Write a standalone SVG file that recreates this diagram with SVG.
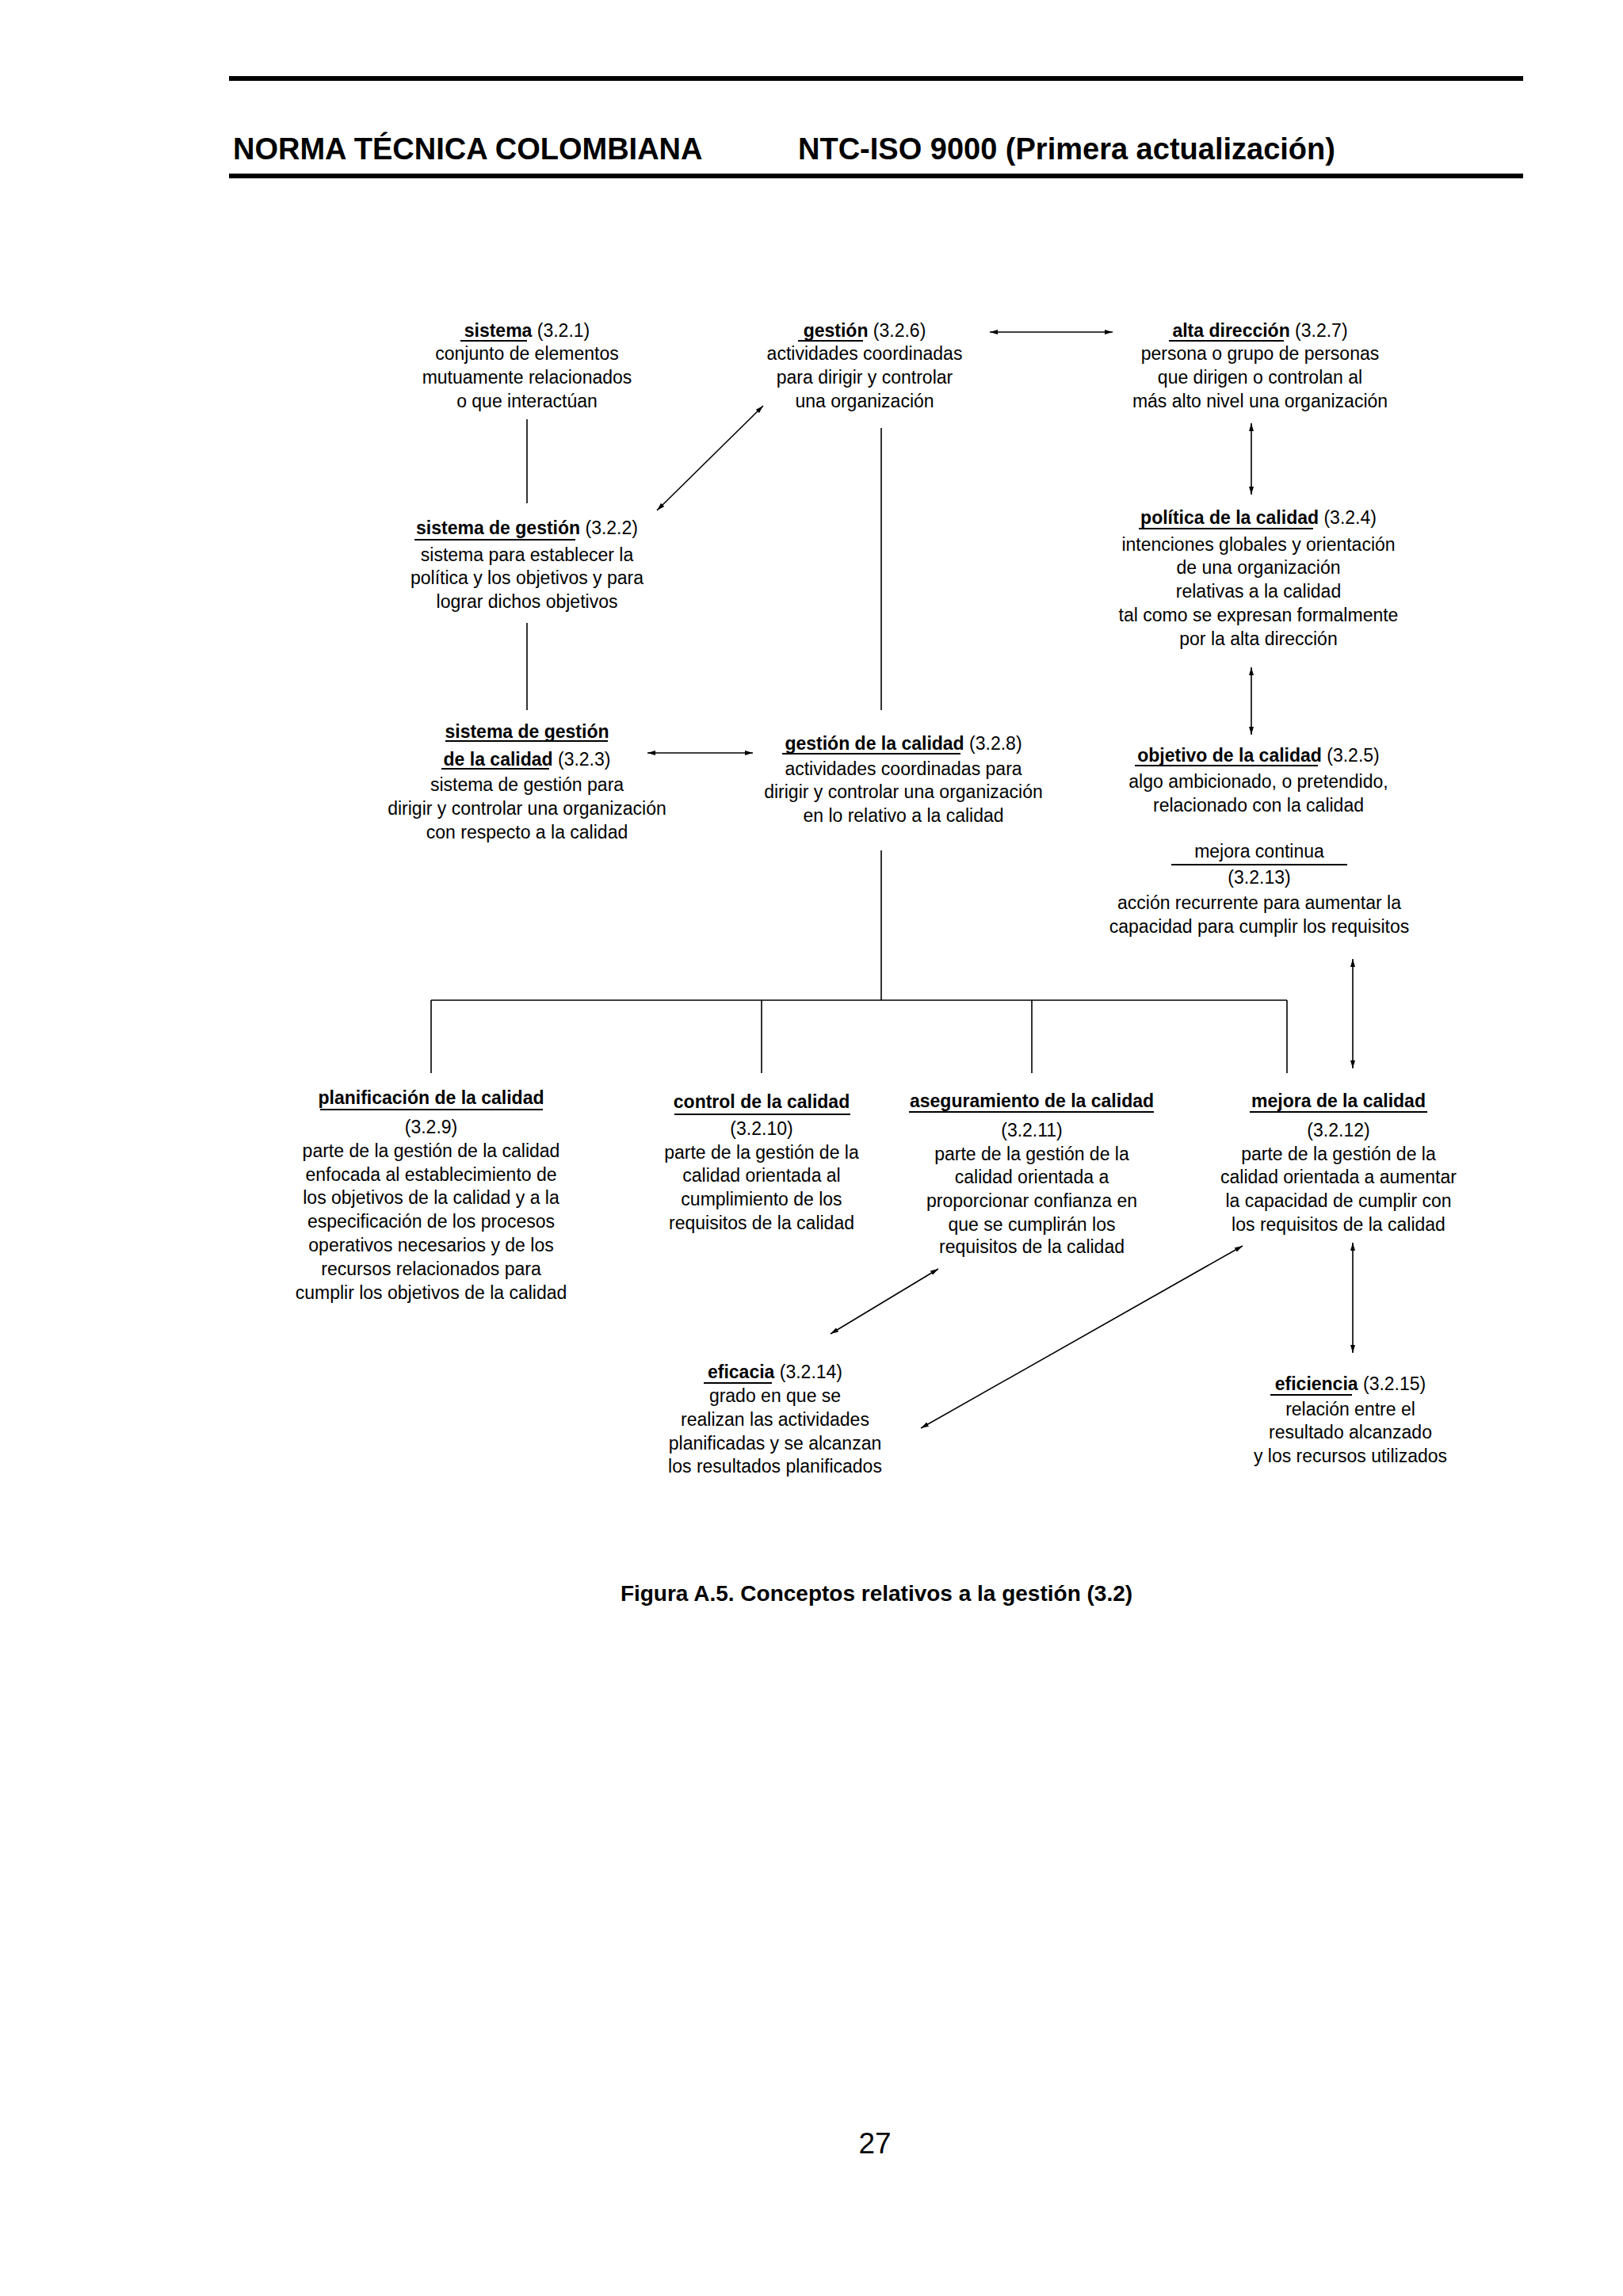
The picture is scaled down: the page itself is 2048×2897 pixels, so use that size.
<svg xmlns="http://www.w3.org/2000/svg" width="2048" height="2897" viewBox="0 0 2048 2897">
<style>
text{font-family:"Liberation Sans",Arial,sans-serif;font-size:23px;fill:#000;text-anchor:middle}
.h{font-size:38px;font-weight:bold;text-anchor:start}
.b{font-weight:bold}
.ul{stroke:#000;stroke-width:2}
.c{stroke:#000;stroke-width:1.6;fill:none}
.a{stroke:#000;stroke-width:1.6;fill:none;marker-start:url(#ar);marker-end:url(#ar)}
</style>
<defs><marker id="ar" viewBox="0 0 10 6" refX="10" refY="3" markerWidth="10" markerHeight="6" markerUnits="userSpaceOnUse" orient="auto-start-reverse"><path d="M0,0 L10,3 L0,6 Z" fill="#000"/></marker></defs>
<rect width="2048" height="2897" fill="#fff"/>
<g id="header">
<rect x="289" y="96" width="1633" height="6"/>
<text class="h" x="294" y="201">NORMA TÉCNICA COLOMBIANA</text>
<text class="h" x="1007" y="201">NTC-ISO 9000 (Primera actualización)</text>
<rect x="289" y="219" width="1633" height="6"/>
</g>
<g id="connectors">
<line class="a" x1="1249" y1="419" x2="1404" y2="419"/>
<line class="c" x1="665" y1="529" x2="665" y2="635"/>
<line class="a" x1="829" y1="644" x2="963" y2="512"/>
<line class="c" x1="665" y1="786" x2="665" y2="896"/>
<line class="a" x1="817" y1="950" x2="950" y2="950"/>
<line class="c" x1="1112" y1="540" x2="1112" y2="896"/>
<line class="a" x1="1579" y1="534" x2="1579" y2="624"/>
<line class="a" x1="1579" y1="842" x2="1579" y2="927"/>
<line class="c" x1="1112" y1="1073" x2="1112" y2="1262"/>
<line class="c" x1="544" y1="1262" x2="1624" y2="1262"/>
<line class="c" x1="544" y1="1262" x2="544" y2="1354"/>
<line class="c" x1="961" y1="1262" x2="961" y2="1354"/>
<line class="c" x1="1302" y1="1262" x2="1302" y2="1354"/>
<line class="c" x1="1624" y1="1262" x2="1624" y2="1354"/>
<line class="a" x1="1707" y1="1210" x2="1707" y2="1348"/>
<line class="a" x1="1184" y1="1601" x2="1048" y2="1683"/>
<line class="a" x1="1568" y1="1572" x2="1162" y2="1802"/>
<line class="a" x1="1707" y1="1568" x2="1707" y2="1707"/>
</g>
<g id="sistema">
<text x="665" y="425"><tspan class="b">sistema</tspan>  (3.2.1)</text>
<line class="ul" x1="581" y1="430" x2="665" y2="430"/>
<text x="665" y="454">conjunto de elementos</text>
<text x="665" y="484">mutuamente relacionados</text>
<text x="665" y="514">o que interactúan</text>
</g>
<g id="gestion">
<text x="1091" y="425"><tspan class="b">gestión</tspan>  (3.2.6)</text>
<line class="ul" x1="1007" y1="430" x2="1089" y2="430"/>
<text x="1091" y="454">actividades coordinadas</text>
<text x="1091" y="484">para dirigir y controlar</text>
<text x="1091" y="514">una organización</text>
</g>
<g id="alta">
<text x="1590" y="425"><tspan class="b">alta dirección</tspan> (3.2.7)</text>
<line class="ul" x1="1475" y1="430" x2="1620" y2="430"/>
<text x="1590" y="454">persona o grupo de personas</text>
<text x="1590" y="484">que dirigen o controlan al</text>
<text x="1590" y="514">más alto nivel una organización</text>
</g>
<g id="sgestion">
<text x="665" y="674"><tspan class="b">sistema de gestión</tspan> (3.2.2)</text>
<line class="ul" x1="523" y1="681" x2="726" y2="681"/>
<text x="665" y="708">sistema para establecer la</text>
<text x="665" y="737">política y los objetivos y para</text>
<text x="665" y="767">lograr dichos objetivos</text>
</g>
<g id="politica">
<text x="1588" y="661"><tspan class="b">política de la calidad</tspan> (3.2.4)</text>
<line class="ul" x1="1437" y1="667" x2="1657" y2="667"/>
<text x="1588" y="695">intenciones globales y orientación</text>
<text x="1588" y="724">de una organización</text>
<text x="1588" y="754">relativas a la calidad</text>
<text x="1588" y="784">tal como se expresan formalmente</text>
<text x="1588" y="814">por la alta dirección</text>
</g>
<g id="sgc">
<text x="665" y="931" class="b">sistema de gestión</text>
<line class="ul" x1="562" y1="935" x2="767" y2="935"/>
<text x="665" y="966"><tspan class="b">de la calidad</tspan>  (3.2.3)</text>
<line class="ul" x1="557" y1="970" x2="693" y2="970"/>
<text x="665" y="998">sistema de gestión para</text>
<text x="665" y="1028">dirigir y controlar una organización</text>
<text x="665" y="1058">con respecto a la calidad</text>
</g>
<g id="gc">
<text x="1140" y="946"><tspan class="b">gestión de la calidad</tspan>  (3.2.8)</text>
<line class="ul" x1="987" y1="951" x2="1212" y2="951"/>
<text x="1140" y="978">actividades coordinadas para</text>
<text x="1140" y="1007">dirigir y controlar una organización</text>
<text x="1140" y="1037">en lo relativo a la calidad</text>
</g>
<g id="objetivo">
<text x="1588" y="961"><tspan class="b">objetivo de la calidad</tspan>  (3.2.5)</text>
<line class="ul" x1="1432" y1="966" x2="1663" y2="966"/>
<text x="1588" y="994">algo ambicionado, o pretendido,</text>
<text x="1588" y="1024">relacionado con la calidad</text>
</g>
<g id="mcontinua">
<text x="1589" y="1082">mejora continua</text>
<line class="ul" x1="1478" y1="1091" x2="1700" y2="1091"/>
<text x="1589" y="1115">(3.2.13)</text>
<text x="1589" y="1147">acción recurrente para aumentar la</text>
<text x="1589" y="1177">capacidad para cumplir los requisitos</text>
</g>
<g id="planificacion">
<text x="544" y="1393" class="b">planificación de la calidad</text>
<line class="ul" x1="404" y1="1400" x2="685" y2="1400"/>
<text x="544" y="1430">(3.2.9)</text>
<text x="544" y="1460">parte de la gestión de la calidad</text>
<text x="544" y="1490">enfocada al establecimiento  de</text>
<text x="544" y="1519">los objetivos de la calidad y a la</text>
<text x="544" y="1549">especificación de los procesos</text>
<text x="544" y="1579">operativos necesarios y de los</text>
<text x="544" y="1609">recursos relacionados para</text>
<text x="544" y="1639">cumplir los objetivos de la calidad</text>
</g>
<g id="control">
<text x="961" y="1398" class="b">control de la calidad</text>
<line class="ul" x1="851" y1="1406" x2="1073" y2="1406"/>
<text x="961" y="1432">(3.2.10)</text>
<text x="961" y="1462">parte de la gestión de la</text>
<text x="961" y="1491">calidad orientada al</text>
<text x="961" y="1521">cumplimiento de los</text>
<text x="961" y="1551">requisitos de la calidad</text>
</g>
<g id="aseguramiento">
<text x="1302" y="1397" class="b">aseguramiento de la calidad</text>
<line class="ul" x1="1147" y1="1403" x2="1456" y2="1403"/>
<text x="1302" y="1434">(3.2.11)</text>
<text x="1302" y="1464">parte de la gestión de la</text>
<text x="1302" y="1493">calidad orientada a</text>
<text x="1302" y="1523">proporcionar confianza en</text>
<text x="1302" y="1553">que se cumplirán los</text>
<text x="1302" y="1581">requisitos de la calidad</text>
</g>
<g id="mejora">
<text x="1689" y="1397" class="b">mejora de la calidad</text>
<line class="ul" x1="1577" y1="1403" x2="1801" y2="1403"/>
<text x="1689" y="1434">(3.2.12)</text>
<text x="1689" y="1464">parte de la gestión de la</text>
<text x="1689" y="1493">calidad orientada a aumentar</text>
<text x="1689" y="1523">la capacidad de cumplir con</text>
<text x="1689" y="1553">los requisitos de la calidad</text>
</g>
<g id="eficacia">
<text x="978" y="1739"><tspan class="b">eficacia</tspan>  (3.2.14)</text>
<line class="ul" x1="888" y1="1745" x2="974" y2="1745"/>
<text x="978" y="1769">grado en que se</text>
<text x="978" y="1799">realizan las actividades</text>
<text x="978" y="1829">planificadas y se alcanzan</text>
<text x="978" y="1858">los resultados planificados</text>
</g>
<g id="eficiencia">
<text x="1704" y="1754"><tspan class="b">eficiencia</tspan>  (3.2.15)</text>
<line class="ul" x1="1603" y1="1760" x2="1706" y2="1760"/>
<text x="1704" y="1786">relación entre el</text>
<text x="1704" y="1815">resultado alcanzado</text>
<text x="1704" y="1845">y los recursos utilizados</text>
</g>
<g id="caption">
<text x="1106" y="2020" class="b" style="font-size:28px">Figura A.5. Conceptos relativos a la gestión (3.2)</text>
<text x="1104" y="2717" style="font-size:37px">27</text>
</g>
</svg>
